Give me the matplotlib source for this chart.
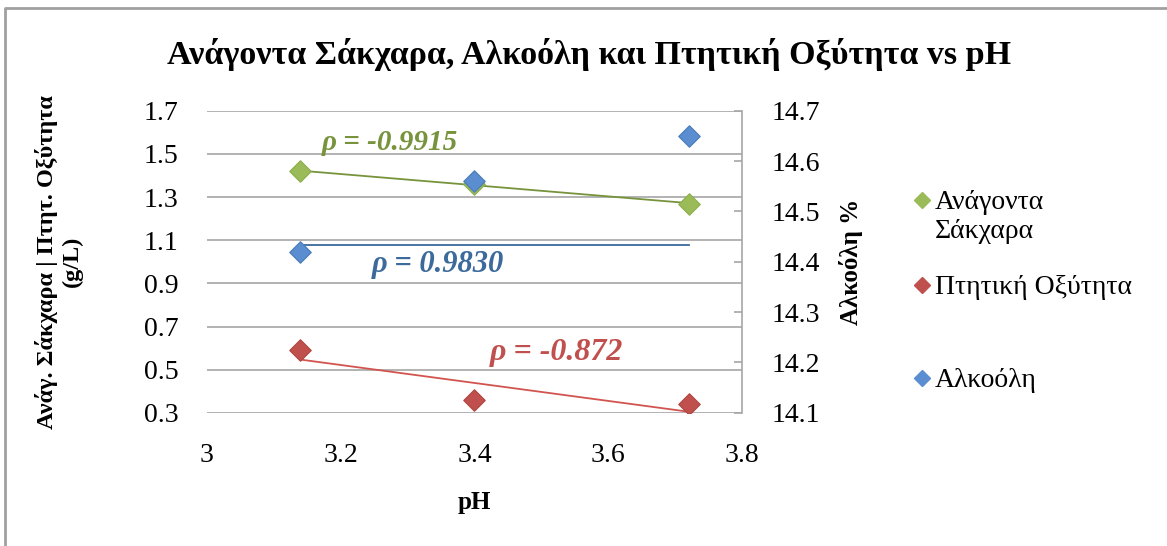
import matplotlib
matplotlib.use("Agg")
import matplotlib.pyplot as plt
import numpy as np
from matplotlib.lines import Line2D

# Δεδομένα
ph = [3.14, 3.40, 3.72]
sakxara = [1.42, 1.36, 1.27]
oxytita = [0.59, 0.36, 0.34]
alkooli = [14.42, 14.56, 14.65]
# η γραμμή τάσης της αλκοόλης στο πρωτότυπο είναι οριζόντια (άξονας g/L)
alkooli_trend = [1.08, 1.08]

left_ticks = [0.3, 0.5, 0.7, 0.9, 1.1, 1.3, 1.5, 1.7]
right_ticks = [14.1, 14.2, 14.3, 14.4, 14.5, 14.6, 14.7]
x_ticks = [3, 3.2, 3.4, 3.6, 3.8]
legend_labels = ['Ανάγοντα\nΣάκχαρα', 'Πτητική Οξύτητα', 'Αλκοόλη']

green, green_line = '#9BBB59', '#77933C'
red, red_line = '#C0504D', '#D2544F'
blue, blue_line = '#5A8ED0', '#3B6A9B'

plt.rcParams['font.family'] = ['Liberation Serif', 'DejaVu Serif']

fig = plt.figure(figsize=(11.67, 5.46), dpi=100)
ax = fig.add_axes([0.177, 0.244, 0.459, 0.553])
ax2 = ax.twinx()

# γραμμές τάσης
for y, c in [(sakxara, green_line), (oxytita, red_line)]:
    k, b = np.polyfit(ph, y, 1)
    xx = np.array([ph[0], ph[-1]])
    ax.plot(xx, k * xx + b, color=c, lw=1.3, zorder=2)
ax.plot([ph[0], ph[-1]], alkooli_trend, color=blue_line, lw=1.3, zorder=2)

ax.scatter(ph, sakxara, marker='D', s=120, color=green, edgecolor='#8AAE4A', lw=0.8, zorder=3)
ax.scatter(ph, oxytita, marker='D', s=120, color=red, edgecolor='#B04540', lw=0.8, zorder=3)
ax2.scatter(ph, alkooli, marker='D', s=120, color=blue, edgecolor='#4A7CB8', lw=0.8, zorder=3)

ax.set_xlim(3, 3.8)
ax.set_ylim(0.3, 1.7)
ax2.set_ylim(14.1, 14.7)
ax.set_xticks(x_ticks)
ax.set_xticklabels(['3', '3.2', '3.4', '3.6', '3.8'])
ax.set_yticks(left_ticks)
ax.set_yticklabels([f'{v:.1f}' for v in left_ticks])
ax2.set_yticks(right_ticks)
ax2.set_yticklabels([f'{v:.1f}' for v in right_ticks])

ax.grid(axis='y', color='#A6A6A6', lw=1.2)
ax.set_axisbelow(True)
for s in ['top', 'left', 'bottom']:
    ax.spines[s].set_visible(False)
    ax2.spines[s].set_visible(False)
ax.spines['right'].set_visible(False)
ax2.spines['right'].set_color('#A6A6A6')
ax2.spines['right'].set_linewidth(1.2)
ax.tick_params(axis='both', length=0, labelsize=20)
ax.tick_params(axis='y', pad=20)
ax.tick_params(axis='x', pad=22)
ax2.tick_params(axis='y', direction='in', length=6, width=1.2, color='#A6A6A6',
                labelsize=20, pad=21)

ax.set_xlabel('pH', fontsize=18, fontweight='bold', labelpad=16)
ax.set_ylabel('Ανάγ. Σάκχαρα | Πτητ. Οξύτητα\n(g/L)', fontsize=17.5, fontweight='bold',
              labelpad=44, linespacing=1.2)
ax2.set_ylabel('Αλκοόλη %', fontsize=18, fontweight='bold', labelpad=14)

fig.text(0.505, 0.9, 'Ανάγοντα Σάκχαρα, Αλκοόλη και Πτητική Οξύτητα vs pH',
         ha='center', va='center', fontsize=24.5, fontweight='bold')

ax.text(3.274, 1.552, 'ρ = -0.9915', color=green_line, fontsize=21, fontweight='bold',
        style='italic', ha='center', va='center')
ax.text(3.345, 0.986, 'ρ = 0.9830', color=blue_line, fontsize=22, fontweight='bold',
        style='italic', ha='center', va='center')
ax.text(3.523, 0.578, 'ρ = -0.872', color=red, fontsize=23, fontweight='bold',
        style='italic', ha='center', va='center')

# υπόμνημα, όπως στο Excel (σύμβολο στην πρώτη γραμμή)
leg_y = [0.634, 0.478, 0.308]
for c, lab, yy in zip([green, red, blue], legend_labels, leg_y):
    fig.add_artist(Line2D([0.790], [yy], marker='D', ls='', color=c, markersize=8,
                          transform=fig.transFigure))
    fig.text(0.801, yy + 0.018, lab, ha='left', va='top', fontsize=20,
             linespacing=1.2, family=['Liberation Serif', 'DejaVu Serif'])

# πλαίσιο (πάνω και αριστερά)
fig.add_artist(Line2D([0.0045, 0.0045, 1.0], [0.0, 0.986, 0.986], color='#A0A0A0',
                      lw=2, transform=fig.transFigure))

fig.savefig('out.png', dpi=100)
